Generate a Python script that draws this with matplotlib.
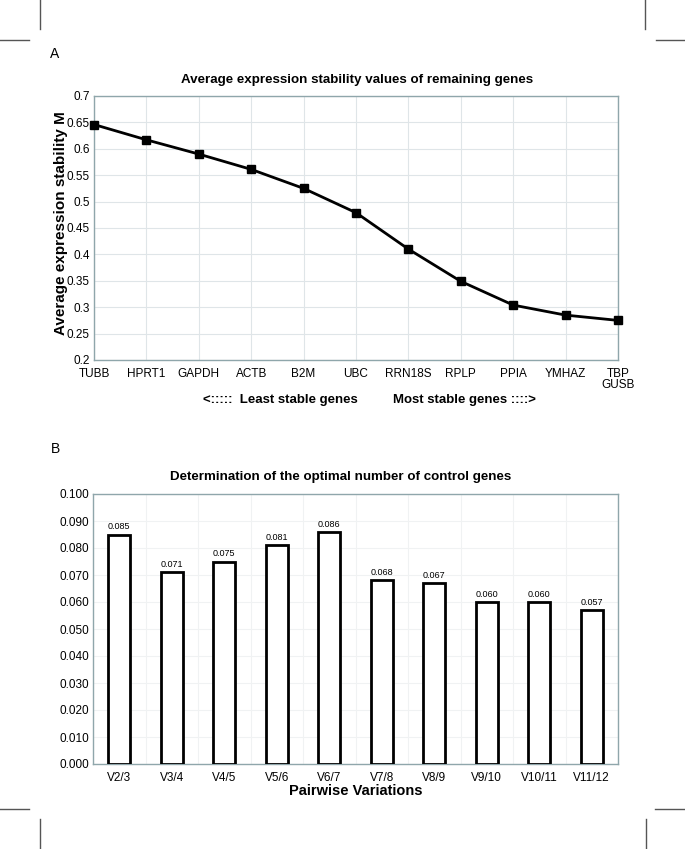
import matplotlib
matplotlib.use("Agg")
import matplotlib.pyplot as plt
from matplotlib.lines import Line2D
import numpy as np

plt.rcParams['font.family'] = ['Liberation Sans', 'DejaVu Sans']

# ---- data ----
genes = ["TUBB", "HPRT1", "GAPDH", "ACTB", "B2M", "UBC", "RRN18S", "RPLP",
         "PPIA", "YMHAZ", "TBP\nGUSB"]
stability_m = [0.646, 0.617, 0.590, 0.561, 0.525, 0.479, 0.410, 0.349,
               0.304, 0.285, 0.275]
pairs = ["V2/3", "V3/4", "V4/5", "V5/6", "V6/7", "V7/8", "V8/9", "V9/10",
         "V10/11", "V11/12"]
pairwise_v = [0.085, 0.071, 0.075, 0.081, 0.086, 0.068, 0.067, 0.060,
              0.060, 0.057]
top_yticks = [0.2, 0.25, 0.3, 0.35, 0.4, 0.45, 0.5, 0.55, 0.6, 0.65, 0.7]
bot_yticks = [0.0, 0.01, 0.02, 0.03, 0.04, 0.05, 0.06, 0.07, 0.08, 0.09, 0.10]

W, H = 685, 849
fig = plt.figure(figsize=(W / 100, H / 100), dpi=100)
fig.patch.set_facecolor("white")

spine_c = "#8fa6ab"

def fx(x):
    return x / W

def fy(y):
    return 1 - y / H

# ---- panel A ----
axA = fig.add_axes([fx(94), fy(360), fx(618) - fx(94), fy(96) - fy(360)])
xa = np.arange(len(genes))
axA.plot(xa, stability_m, color="black", lw=2.0, marker="s", ms=6,
         mfc="black", mec="black", zorder=3, clip_on=False)
axA.set_xlim(0, len(genes) - 1)
axA.set_ylim(0.2, 0.7)
axA.set_xticks(xa)
axA.set_xticklabels(genes, fontsize=8.5, linespacing=0.9)
axA.set_yticks(top_yticks)
axA.set_yticklabels([f"{v:g}" for v in top_yticks], fontsize=8.5)
axA.tick_params(axis="x", length=0, pad=6)
axA.tick_params(axis="y", length=0, pad=3)
axA.grid(True, color="#dfe5e8", lw=0.8)
axA.set_axisbelow(True)
for s in axA.spines.values():
    s.set_color(spine_c)
    s.set_linewidth(1.0)
axA.set_ylabel("Average expression stability M", fontsize=11,
               fontweight="bold")
axA.yaxis.set_label_coords(-0.05, 0.52)
fig.text(fx(357), fy(80), "Average expression stability values of remaining genes",
         ha="center", va="center", fontsize=9.6, fontweight="bold")
fig.text(fx(203), fy(400), "<:::::  Least stable genes", ha="left", va="center",
         fontsize=9.5, fontweight="bold")
fig.text(fx(393), fy(400), "Most stable genes ::::>", ha="left", va="center",
         fontsize=9.5, fontweight="bold")
fig.text(fx(55), fy(54), "A", ha="center", va="center", fontsize=10)

# ---- panel B ----
axB = fig.add_axes([fx(93), fy(764), fx(618) - fx(93), fy(494) - fy(764)])
xb = np.arange(len(pairs))
bars = axB.bar(xb, pairwise_v, width=0.41, facecolor="white",
               edgecolor="black", linewidth=2.0, zorder=3)
for xi, v in zip(xb, pairwise_v):
    axB.text(xi, v + 0.0012, f"{v:.3f}", ha="center", va="bottom", fontsize=6.5)
axB.set_xlim(-0.5, len(pairs) - 0.5)
axB.set_ylim(0, 0.1)
axB.set_xticks(xb)
axB.set_xticklabels(pairs, fontsize=8.5)
axB.set_yticks(bot_yticks)
axB.set_yticklabels([f"{v:.3f}" for v in bot_yticks], fontsize=8.5)
axB.set_xticks(np.arange(-0.5, len(pairs), 1), minor=True)
axB.tick_params(which="both", length=0)
axB.tick_params(axis="x", which="major", pad=6)
axB.tick_params(axis="y", which="major", pad=3)
axB.grid(True, which="minor", axis="x", color="#f0f2f3", lw=0.8)
axB.grid(True, which="major", axis="y", color="#f0f2f3", lw=0.8)
axB.set_axisbelow(True)
for s in axB.spines.values():
    s.set_color(spine_c)
    s.set_linewidth(1.0)
axB.set_xlabel("Pairwise Variations", fontsize=10.5, fontweight="bold", labelpad=0)
fig.text(fx(341), fy(477), "Determination of the optimal number of control genes",
         ha="center", va="center", fontsize=9.6, fontweight="bold")
fig.text(fx(55), fy(449), "B", ha="center", va="center", fontsize=10)

# ---- crop marks ----
mk = dict(color="#555555", lw=1.0, transform=fig.transFigure)
segs = [((40, 40), (0, 29)), ((0, 29), (40, 40)),
        ((645, 645), (0, 29)), ((656, 685), (40, 40)),
        ((40, 40), (819, 849)), ((0, 29), (809, 809)),
        ((646, 646), (819, 849)), ((655, 685), (809, 809))]
for xs, ys in segs:
    fig.add_artist(Line2D([fx(xs[0]), fx(xs[1])], [fy(ys[0]), fy(ys[1])], **mk))

fig.savefig("out.png", dpi=100)
